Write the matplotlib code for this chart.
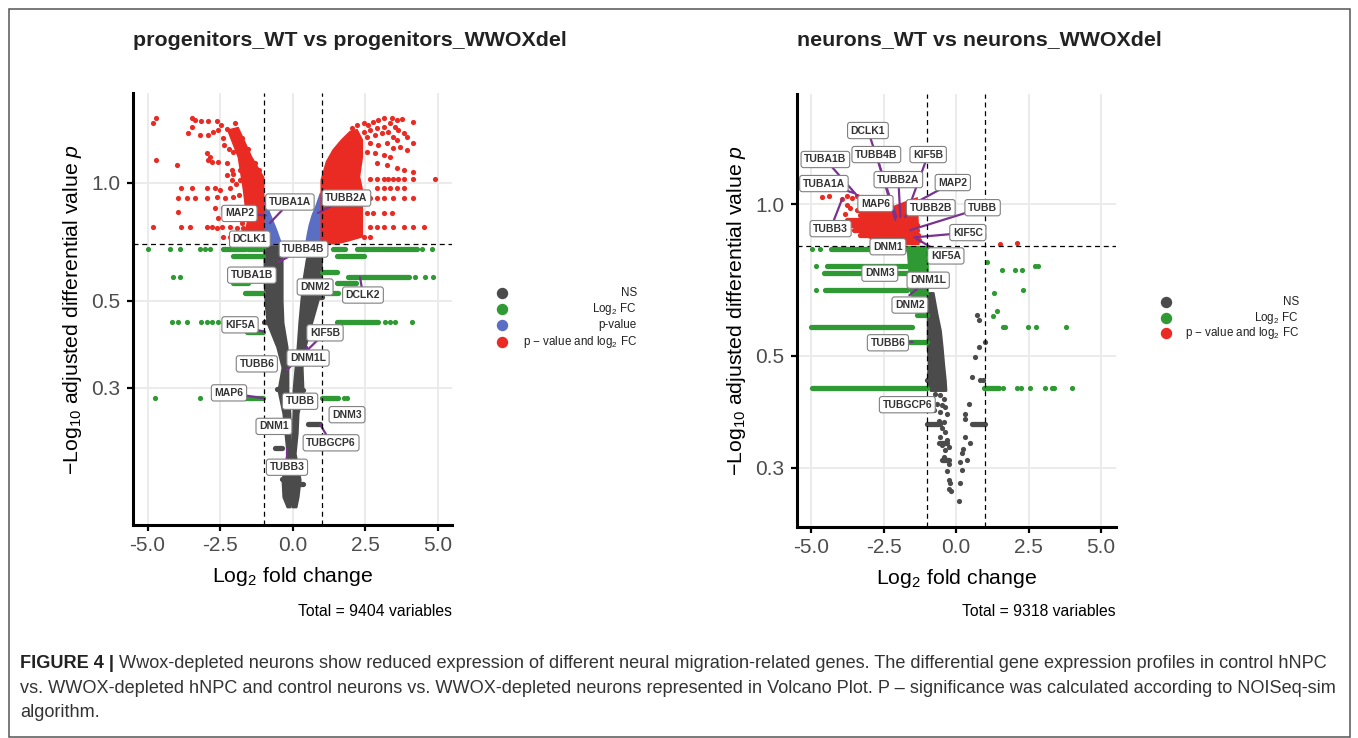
import matplotlib
matplotlib.use('Agg')
import matplotlib.pyplot as plt
from matplotlib.lines import Line2D
from matplotlib.patches import Rectangle
from matplotlib.ticker import NullLocator

plt.rcParams['font.family'] = ['Liberation Sans', 'DejaVu Sans']
plt.rcParams['mathtext.fontset'] = 'custom'
plt.rcParams['mathtext.rm'] = 'Liberation Sans'
plt.rcParams['mathtext.it'] = 'Liberation Sans:italic'
plt.rcParams['mathtext.bf'] = 'Liberation Sans:bold'
plt.rcParams['axes.unicode_minus'] = False

# ======================= DATA: progenitors =======================
prog_title = 'progenitors_WT vs progenitors_WWOXdel'
prog_total = 'Total = 9404 variables'
prog_p_cut = 0.697
prog_ylim = (0.1339, 1.694)

# dense non-significant arms: y, left edge, right edge
prog_ns_y = [0.694, 0.635, 0.565, 0.502, 0.440, 0.381, 0.338, 0.296, 0.258, 0.230, 0.204, 0.175, 0.158, 0.149]
prog_ns_l_x0 = [-1.00, -0.98, -0.98, -0.95, -0.88, -0.54, -0.36, -0.50, -0.33, -0.26, -0.19, -0.36, -0.33, -0.19]
prog_ns_l_x1 = [-0.40, -0.36, -0.36, -0.36, -0.33, -0.19, -0.16, -0.16, -0.09, -0.09, -0.05, 0.02, -0.02, -0.09]
prog_ns_r_x0 = [0.60, 0.47, 0.36, 0.29, 0.22, 0.16, 0.09, 0.02, 0.02, -0.02, -0.02, -0.09, -0.05, -0.02]
prog_ns_r_x1 = [1.00, 1.00, 0.98, 0.88, 0.66, 0.43, 0.33, 0.36, 0.19, 0.16, 0.09, 0.26, 0.19, 0.12]
# rows of tied NS values: y, x from, x to
prog_ns_bar_y = [0.441, 0.298, 0.211, 0.175, 0.510, 0.242, 0.296, 0.170]
prog_ns_bar_x0 = [-1.00, -0.54, -0.60, -0.36, 0.60, 0.54, 0.16, 0.09]
prog_ns_bar_x1 = [-0.78, -0.36, -0.36, -0.19, 1.00, 0.95, 0.36, 0.36]

# p-value only (blue) wedges
prog_p_l_y = [0.903, 0.852, 0.803, 0.757, 0.714, 0.697]
prog_p_l_x0 = [-1.00, -1.00, -1.00, -1.00, -1.00, -1.00]
prog_p_l_x1 = [-0.93, -0.85, -0.71, -0.57, -0.45, -0.40]
prog_p_r_y = [0.940, 0.877, 0.827, 0.780, 0.736, 0.697]
prog_p_r_x0 = [0.95, 0.81, 0.67, 0.57, 0.50, 0.45]
prog_p_r_x1 = [1.00, 1.00, 1.00, 1.00, 1.00, 1.00]

# p-value and log2FC (red): dense cores and individual genes
prog_both_core_l_x = [-2.22, -1.88, -1.42, -1.00, -1.00, -1.80, -1.65, -1.55, -1.68, -1.86]
prog_both_core_l_y = [1.36, 1.38, 1.163, 1.03, 0.70, 0.70, 0.727, 0.79, 0.958, 1.163]
prog_both_core_r_x = [1.00, 1.18, 1.41, 1.70, 1.99, 2.22, 2.40, 2.40, 2.30, 2.40, 2.40, 1.99, 1.53, 1.00]
prog_both_core_r_y = [1.016, 1.131, 1.212, 1.285, 1.349, 1.363, 1.285, 1.165, 1.036, 0.958, 0.729, 0.714, 0.70, 0.70]
prog_both_pts = [
    (-4.81, 1.419), (-4.69, 1.46), (-4.69, 1.143), (-4.00, 1.11), (-3.83, 0.971), (-3.48, 0.971),
    (-3.94, 0.914), (-3.65, 0.914), (-3.37, 0.914), (-3.94, 0.843), (-4.81, 0.772), (-3.83, 0.772),
    (-3.54, 0.772), (-3.48, 1.46), (-3.37, 1.445), (-3.14, 1.44), (-2.91, 1.44), (-2.62, 1.44),
    (-3.48, 1.39), (-3.60, 1.34), (-3.19, 1.323), (-2.91, 1.323), (-2.73, 1.35), (-2.56, 1.363),
    (-2.27, 1.368), (-2.96, 1.19), (-2.85, 1.165), (-2.91, 1.143), (-2.79, 1.13), (-2.56, 1.13),
    (-2.27, 1.12), (-2.10, 1.078), (-1.81, 1.078), (-2.27, 1.046), (-2.10, 1.016), (-1.81, 1.016),
    (-1.64, 0.998), (-2.96, 0.968), (-2.68, 0.968), (-2.50, 0.958), (-2.16, 0.968), (-2.96, 0.914),
    (-2.62, 0.921), (-2.33, 0.914), (-2.04, 0.921), (-2.68, 0.86), (-2.39, 0.86), (-2.16, 0.868),
    (-1.93, 0.868), (-2.56, 0.811), (-2.27, 0.811), (-1.99, 0.811), (-1.70, 0.819), (-2.96, 0.772),
    (-2.79, 0.769), (-2.62, 0.765), (-2.44, 0.772), (-2.16, 0.772), (-1.93, 0.765), (-1.70, 0.765),
    (-1.47, 0.757), (-1.24, 0.743), (-2.39, 0.729), (-2.16, 0.729), (-1.81, 0.729), (-1.58, 0.729),
    (-2.40, 1.30), (-2.35, 1.25), (-2.20, 1.22), (-2.05, 1.20), (-2.45, 1.40), (-2.00, 1.42),
    (-1.75, 1.30), (-1.55, 1.22), (-1.30, 1.12), (-1.15, 1.08), (-2.05, 1.05), (-1.95, 0.99),
    (-1.85, 0.93), (-1.80, 0.85), (-1.75, 0.79), (-1.95, 0.74), (-2.05, 0.71),
    (2.04, 1.376), (2.22, 1.404), (2.45, 1.418), (2.62, 1.404), (2.79, 1.431), (2.96, 1.445),
    (3.14, 1.459), (3.42, 1.459), (3.60, 1.445), (3.77, 1.451), (4.17, 1.426),
    (2.45, 1.35), (2.68, 1.363), (2.91, 1.376), (3.14, 1.39), (3.37, 1.418), (3.54, 1.39),
    (3.65, 1.363), (3.83, 1.337), (3.94, 1.311), (4.17, 1.26),
    (2.56, 1.311), (2.85, 1.324), (3.08, 1.337), (3.31, 1.35), (3.48, 1.311), (3.60, 1.285),
    (2.68, 1.26), (2.96, 1.248), (3.25, 1.26), (3.48, 1.224), (3.71, 1.236), (3.94, 1.212),
    (2.56, 1.20), (2.85, 1.188), (3.14, 1.177), (3.37, 1.165),
    (2.91, 1.121), (3.25, 1.11), (3.60, 1.088), (3.83, 1.077), (4.17, 1.067),
    (2.68, 1.02), (2.91, 1.02), (3.14, 1.02), (3.31, 1.02), (3.48, 1.02), (3.65, 1.02),
    (3.83, 1.02), (4.17, 1.02), (4.92, 1.02),
    (2.91, 0.967), (3.14, 0.967), (3.37, 0.967), (3.60, 0.967), (3.83, 0.967),
    (2.68, 0.912), (2.91, 0.912), (3.14, 0.912), (3.48, 0.912), (3.83, 0.912), (4.17, 0.912),
    (2.56, 0.835), (2.79, 0.835), (3.14, 0.835), (3.42, 0.835),
    (2.68, 0.772), (2.91, 0.772), (3.14, 0.772), (3.48, 0.772), (3.83, 0.772), (4.17, 0.772),
    (4.52, 0.772), (2.45, 0.728), (2.68, 0.728),
]

# log2FC only (green): rows of tied p values and single genes
prog_fc_bar_y = [0.676, 0.676, 0.676, 0.676, 0.652, 0.652, 0.593, 0.574, 0.555, 0.555,
                 0.524, 0.524, 0.442, 0.417, 0.282, 0.282]
prog_fc_bar_x0 = [-2.39, -1.53, 1.41, 2.22, -2.04, 1.53, 1.01, 1.93, -2.04, 1.53,
                  -1.64, 1.01, 1.53, -1.58, -1.64, 1.01]
prog_fc_bar_x1 = [-1.64, -1.03, 1.81, 4.29, -1.01, 2.45, 1.53, 4.00, -1.53, 2.20,
                  -1.01, 1.58, 2.96, -1.01, -1.01, 1.58]
prog_fc_pts = [
    (-4.98, 0.676), (-4.23, 0.676), (-3.88, 0.676), (-3.19, 0.676), (-3.02, 0.676), (-2.85, 0.676),
    (4.46, 0.676), (4.81, 0.676), (-4.11, 0.574), (-3.88, 0.574), (4.23, 0.574), (4.57, 0.574),
    (4.86, 0.574), (-4.17, 0.442), (-3.94, 0.442), (-3.65, 0.442), (-3.14, 0.442), (-2.96, 0.442),
    (-2.79, 0.442), (-2.56, 0.442), (3.19, 0.442), (3.37, 0.442), (3.54, 0.442), (4.11, 0.442),
    (-4.75, 0.282), (-3.19, 0.282), (1.76, 0.282), (1.89, 0.282),
]

# labelled genes: name, log2FC, p
prog_genes = ['TUBA1A', 'TUBB2A', 'MAP2', 'DCLK1', 'TUBB4B', 'TUBA1B', 'DNM2', 'DCLK2', 'KIF5A',
              'KIF5B', 'DNM1L', 'TUBB6', 'MAP6', 'TUBB', 'DNM3', 'DNM1', 'TUBGCP6', 'TUBB3']
prog_gene_x = [-0.78, 0.88, -0.92, -1.05, -0.50, -1.20, 0.70, 2.33, -1.02,
               -0.19, 0.50, -1.20, -1.02, 0.20, 1.85, -0.60, 0.95, -0.19]
prog_gene_y = [0.789, 0.837, 0.825, 0.740, 0.627, 0.580, 0.550, 0.574, 0.417,
               0.333, 0.381, 0.345, 0.282, 0.280, 0.260, 0.240, 0.242, 0.209]

# ======================= DATA: neurons =======================
neur_title = 'neurons_WT vs neurons_WWOXdel'
neur_total = 'Total = 9318 variables'
neur_p_cut = 0.827
neur_ylim = (0.2286, 1.657)

neur_ns_y = [0.668, 0.607, 0.562, 0.521, 0.483, 0.447, 0.427]
neur_ns_x0 = [-1.00, -1.00, -1.00, -1.00, -0.97, -1.00, -0.90]
neur_ns_x1 = [-0.80, -0.67, -0.55, -0.49, -0.44, -0.38, -0.36]
neur_ns_bar_y = [0.447, 0.367, 0.336, 0.311, 0.367]
neur_ns_bar_x0 = [-1.00, -1.00, -0.61, -0.49, 0.54]
neur_ns_bar_x1 = [-0.67, -0.55, -0.32, -0.26, 0.99]
neur_ns_pts = [
    (-0.72, 0.421), (-0.55, 0.418), (-0.44, 0.411), (-0.67, 0.402), (-0.49, 0.399), (-0.38, 0.396),
    (-0.78, 0.390), (-0.55, 0.387), (-0.32, 0.384), (-0.61, 0.372), (-0.44, 0.369), (-0.49, 0.359),
    (-0.38, 0.353), (-0.55, 0.345), (-0.32, 0.340), (-0.49, 0.332), (-0.26, 0.330), (-0.38, 0.325),
    (-0.44, 0.315), (-0.32, 0.310), (-0.26, 0.305), (-0.32, 0.296), (-0.26, 0.283), (-0.21, 0.279),
    (-0.26, 0.272), (-0.18, 0.270),
    (0.71, 0.602), (0.77, 0.589), (0.98, 0.533), (0.77, 0.521), (0.66, 0.498), (0.54, 0.453),
    (0.83, 0.447), (0.94, 0.447), (0.43, 0.401), (0.31, 0.384), (0.31, 0.375), (0.31, 0.345),
    (0.48, 0.335), (0.23, 0.327), (0.20, 0.320), (0.37, 0.311), (0.14, 0.308), (0.20, 0.297),
    (0.14, 0.279), (0.11, 0.258),
]

neur_both_core_x = [-3.14, -2.62, -2.16, -1.70, -1.36, -1.30, -2.62, -3.14]
neur_both_core_y = [0.952, 0.974, 0.989, 1.012, 1.028, 0.834, 0.834, 0.869]
neur_both_bar_y = [0.974, 0.952, 0.931, 0.910, 0.889, 0.869, 0.849]
neur_both_bar_x0 = [-3.43, -3.31, -3.77, -3.60, -3.54, -3.31, -2.62]
neur_both_bar_x1 = [-1.47, -1.41, -1.41, -1.36, -1.36, -1.33, -1.30]
neur_both_pts = [
    (-4.63, 1.036), (-4.40, 1.039), (-3.94, 1.023), (-3.77, 1.039), (-3.60, 1.032), (-3.43, 1.039),
    (-3.77, 0.997), (-3.66, 0.982), (-3.83, 0.959), (1.52, 0.834), (2.11, 0.839),
]

neur_fc_block_y = [0.825, 0.740, 0.675, 0.660]
neur_fc_block_x0 = [-1.70, -1.64, -1.59, -1.55]
neur_fc_block_x1 = [-1.00, -1.00, -1.00, -1.00]
neur_fc_bar_y = [0.817, 0.755, 0.731, 0.675, 0.602, 0.571, 0.533, 0.431, 0.431]
neur_fc_bar_x0 = [-4.34, -4.46, -4.57, -4.52, -1.36, -5.03, -1.64, -4.98, 0.97]
neur_fc_bar_x1 = [-1.01, -1.64, -1.64, -1.70, -1.01, -1.53, -1.01, -1.01, 1.46]
neur_fc_pts = [
    (-4.98, 0.817), (-4.69, 0.817), (-4.86, 0.755), (-4.86, 0.675), (1.06, 0.769), (1.57, 0.740),
    (2.03, 0.740), (2.26, 0.740), (2.72, 0.754), (2.84, 0.754), (1.32, 0.667), (2.29, 0.675),
    (1.26, 0.600), (1.40, 0.614), (1.61, 0.571), (1.69, 0.571), (2.49, 0.571), (2.76, 0.571),
    (3.79, 0.571), (1.63, 0.431), (2.11, 0.431), (2.23, 0.431), (2.55, 0.431), (3.07, 0.431),
    (3.30, 0.431), (3.36, 0.431), (4.01, 0.431),
]

neur_genes = ['DCLK1', 'TUBA1B', 'TUBB4B', 'KIF5B', 'TUBB2A', 'TUBA1A', 'MAP2', 'MAP6', 'TUBB2B',
              'TUBB', 'TUBB3', 'KIF5C', 'DNM1', 'KIF5A', 'DNM3', 'DNM1L', 'DNM2', 'TUBB6', 'TUBGCP6']
neur_gene_x = [-2.07, -3.38, -2.10, -1.76, -1.93, -3.52, -1.24, -2.75, -1.45,
               -1.59, -3.93, -1.45, -2.30, -1.38, -2.60, -1.62, -1.60, -1.50, -1.70]
neur_gene_y = [0.944, 1.034, 0.931, 0.943, 0.943, 1.053, 1.020, 0.990, 0.975,
               0.889, 1.029, 0.860, 0.820, 0.855, 0.730, 0.660, 0.630, 0.533, 0.400]

x_ticks = [-5.0, -2.5, 0.0, 2.5, 5.0]
x_tick_labels = ['-5.0', '-2.5', '0.0', '2.5', '5.0']
y_ticks = [0.3, 0.5, 1.0]
y_tick_labels = ['0.3', '0.5', '1.0']
legend_labels = ['NS', 'Log$_2$ FC', 'p-value', 'p \u2212 value and log$_2$ FC']

# ======================= LAYOUT (not data) =======================
# label box centres (log2FC, p) as placed by the repel layout in the original
prog_label_pos = [(-0.09, 0.893), (1.86, 0.914), (-1.83, 0.835), (-1.47, 0.718), (0.38, 0.677),
                  (-1.40, 0.581), (0.78, 0.542), (2.43, 0.517), (-1.81, 0.434), (1.12, 0.414),
                  (0.535, 0.357), (-1.23, 0.345), (-2.19, 0.291), (0.26, 0.277), (1.88, 0.256),
                  (-0.64, 0.239), (1.33, 0.217), (-0.19, 0.188)]
neur_label_pos = [(-3.05, 1.402), (-4.52, 1.228), (-2.76, 1.256), (-0.97, 1.256), (-2.00, 1.120),
                  (-4.57, 1.100), (-0.12, 1.105), (-2.79, 1.004), (-0.88, 0.985), (0.91, 0.985),
                  (-4.34, 0.895), (0.40, 0.879), (-2.36, 0.824), (-0.36, 0.790), (-2.64, 0.730),
                  (-0.97, 0.707), (-1.60, 0.631), (-2.36, 0.531), (-1.69, 0.400)]

W, H = 1358, 738
COL_NS = '#4b4b4b'
COL_FC = '#2f9a33'
COL_P = '#5a6ec3'
COL_BOTH = '#ea2b24'
COL_SEG = '#7a3292'
DOT_S = 14
BAR_LW = 3.8


def fx(px):
    return px / W


def fy(py):
    return 1 - py / H


fig = plt.figure(figsize=(W / 100, H / 100), dpi=100)
fig.patch.set_facecolor('white')


def style_axes(ax, ylim, p_cut):
    ax.set_yscale('log')
    ax.set_xlim(-5.5, 5.5)
    ax.set_ylim(*ylim)
    ax.set_xticks(x_ticks)
    ax.set_xticklabels(x_tick_labels)
    ax.set_yticks(y_ticks)
    ax.set_yticklabels(y_tick_labels)
    ax.yaxis.set_minor_locator(NullLocator())
    ax.grid(True, color='#ebebeb', lw=1.4)
    ax.set_axisbelow(True)
    for s in ['top', 'right']:
        ax.spines[s].set_visible(False)
    for s in ['left', 'bottom']:
        ax.spines[s].set_linewidth(2.2)
        ax.spines[s].set_color('black')
    ax.tick_params(axis='both', length=4, width=1.6, color='black', labelcolor='#4d4d4d',
                   labelsize=15)
    ax.tick_params(axis='x', pad=4)
    ax.tick_params(axis='y', pad=5)
    ax.set_xlabel('Log$_2$ fold change', fontsize=15.3, color='black', labelpad=7)
    ax.set_ylabel('\u2212Log$_{10}$ adjusted differential value $p$', fontsize=15.3,
                  color='black', labelpad=5)
    dash = (0, (4, 3))
    ax.axvline(-1, color='black', lw=0.9, ls=dash, zorder=7)
    ax.axvline(1, color='black', lw=0.9, ls=dash, zorder=7)
    ax.axhline(p_cut, color='black', lw=0.9, ls=dash, zorder=7)


def band(ax, y, x0, x1, col):
    ax.fill_betweenx(y, x0, x1, color=col, lw=1.5, ec=col, zorder=2)


def bars(ax, y, x0, x1, col):
    ax.hlines(y, x0, x1, colors=col, lw=BAR_LW, capstyle='round', zorder=2)


def dots(ax, pts, col):
    xs = [p[0] for p in pts]
    ys = [p[1] for p in pts]
    ax.scatter(xs, ys, s=DOT_S, color=col, lw=0, zorder=2)


def labels(ax, genes, gx, gy, pos):
    for name, x, y, (lx, ly) in zip(genes, gx, gy, pos):
        ax.plot([x, lx], [y, ly], color=COL_SEG, lw=1.6, zorder=6, solid_capstyle='round')
        ax.text(lx, ly, name, ha='center', va='center', fontsize=7.5, fontweight='bold',
                color='#333333', zorder=8,
                bbox=dict(boxstyle='round,pad=0.3,rounding_size=0.25', fc='white',
                          ec='#808080', lw=0.8))


# ---------------- left panel ----------------
ax1 = fig.add_axes([fx(133), fy(525), fx(452) - fx(133), fy(93) - fy(525)])
style_axes(ax1, prog_ylim, prog_p_cut)
band(ax1, prog_ns_y, prog_ns_l_x0, prog_ns_l_x1, COL_NS)
band(ax1, prog_ns_y, prog_ns_r_x0, prog_ns_r_x1, COL_NS)
bars(ax1, prog_ns_bar_y, prog_ns_bar_x0, prog_ns_bar_x1, COL_NS)
bars(ax1, prog_fc_bar_y, prog_fc_bar_x0, prog_fc_bar_x1, COL_FC)
dots(ax1, prog_fc_pts, COL_FC)
band(ax1, prog_p_l_y, prog_p_l_x0, prog_p_l_x1, COL_P)
band(ax1, prog_p_r_y, prog_p_r_x0, prog_p_r_x1, COL_P)
ax1.fill(prog_both_core_l_x, prog_both_core_l_y, color=COL_BOTH, lw=1.5, ec=COL_BOTH, zorder=2)
ax1.fill(prog_both_core_r_x, prog_both_core_r_y, color=COL_BOTH, lw=1.5, ec=COL_BOTH, zorder=2)
dots(ax1, prog_both_pts, COL_BOTH)
labels(ax1, prog_genes, prog_gene_x, prog_gene_y, prog_label_pos)

# ---------------- right panel ----------------
ax2 = fig.add_axes([fx(797), fy(527), fx(1115.5) - fx(797), fy(94) - fy(527)])
style_axes(ax2, neur_ylim, neur_p_cut)
band(ax2, neur_ns_y, neur_ns_x0, neur_ns_x1, COL_NS)
bars(ax2, neur_ns_bar_y, neur_ns_bar_x0, neur_ns_bar_x1, COL_NS)
dots(ax2, neur_ns_pts, COL_NS)
band(ax2, neur_fc_block_y, neur_fc_block_x0, neur_fc_block_x1, COL_FC)
bars(ax2, neur_fc_bar_y, neur_fc_bar_x0, neur_fc_bar_x1, COL_FC)
dots(ax2, neur_fc_pts, COL_FC)
ax2.fill(neur_both_core_x, neur_both_core_y, color=COL_BOTH, lw=1.5, ec=COL_BOTH, zorder=2)
bars(ax2, neur_both_bar_y, neur_both_bar_x0, neur_both_bar_x1, COL_BOTH)
dots(ax2, neur_both_pts, COL_BOTH)
labels(ax2, neur_genes, neur_gene_x, neur_gene_y, neur_label_pos)

# ---------------- titles, totals ----------------
fig.text(fx(133), fy(40), prog_title, ha='left', va='center', fontsize=15.4,
         fontweight='bold', color='#222222')
fig.text(fx(797), fy(40), neur_title, ha='left', va='center', fontsize=15.4,
         fontweight='bold', color='#222222')
fig.text(fx(452), fy(611), prog_total, ha='right', va='center', fontsize=11.3, color='black')
fig.text(fx(1115.5), fy(612), neur_total, ha='right', va='center', fontsize=11.3, color='black')

# ---------------- legends ----------------
leg_cols = [COL_NS, COL_FC, COL_P, COL_BOTH]


def legend(x_marker, x_text, ys, idx):
    for y, i in zip(ys, idx):
        fig.add_artist(Line2D([fx(x_marker)], [fy(y)], marker='o', ms=7.2, color=leg_cols[i],
                              lw=0, transform=fig.transFigure))
        fig.text(fx(x_text), fy(y), legend_labels[i], ha='right', va='center', fontsize=8.4,
                 color='#222222')


legend(502, 637, [293, 309, 325, 342], [0, 1, 2, 3])
legend(1166, 1299, [302, 317.5, 333.5], [0, 1, 3])

# ---------------- caption ----------------
cap_size = 13.1
cap1 = ('Wwox-depleted neurons show reduced expression of different neural migration-related '
        'genes. The differential gene expression profiles in control hNPC')
cap2 = ('vs. WWOX-depleted hNPC and control neurons vs. WWOX-depleted neurons represented in '
        'Volcano Plot. P \u2013 significance was calculated according to NOISeq-sim')
cap3 = 'algorithm.'
t0 = fig.text(fx(20), fy(668), 'FIGURE 4 |', ha='left', va='baseline', fontsize=cap_size,
              fontweight='bold', color='#222222')
r = fig.canvas.get_renderer()
bb = t0.get_window_extent(r)
fig.text((bb.x1 + 5) / W, fy(668), cap1, ha='left', va='baseline', fontsize=cap_size,
         color='#333333')
fig.text(fx(20), fy(693), cap2, ha='left', va='baseline', fontsize=cap_size, color='#333333')
fig.text(fx(20), fy(717), cap3, ha='left', va='baseline', fontsize=cap_size, color='#333333')

# ---------------- border ----------------
fig.add_artist(Rectangle((fx(8.5), fy(737)), fx(1350) - fx(8.5), fy(9) - fy(737),
                         transform=fig.transFigure, fill=False, ec='#555555', lw=1.1))

fig.savefig('out.png', dpi=100, facecolor='white')
